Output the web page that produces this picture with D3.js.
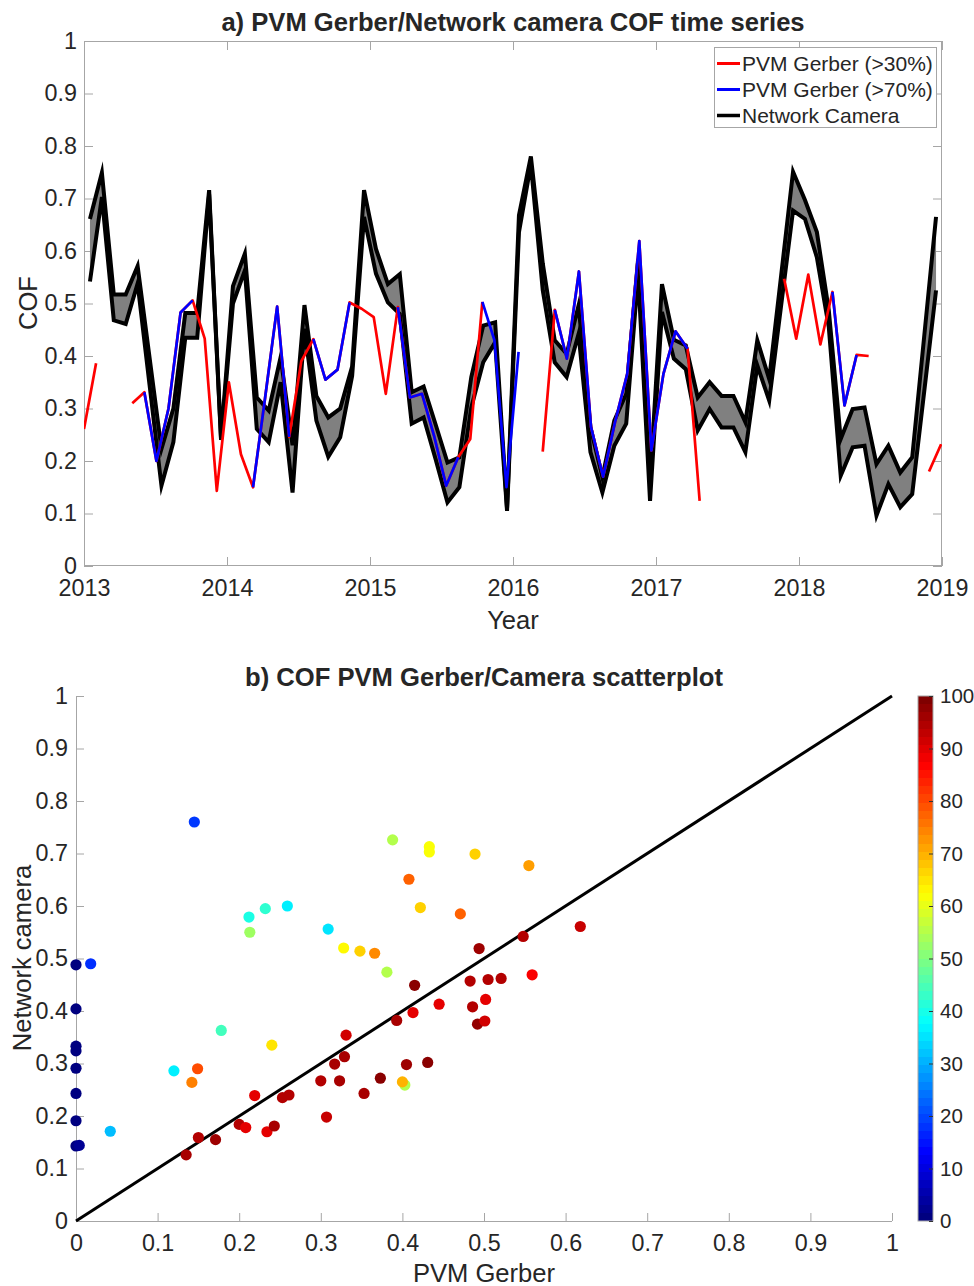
<!DOCTYPE html>
<html><head><meta charset="utf-8">
<script src="https://cdn.jsdelivr.net/npm/d3@7"></script>
<style>
body{margin:0;background:#fff}
svg{display:block}
text{font-family:"Liberation Sans",Arial,Helvetica,sans-serif;fill:#262626}
</style>
</head><body>
<svg id="c" width="974" height="1286"></svg>
<script>
// ---------------- DATA ----------------
// a) Network camera COF band (monthly, mid-month), upper and lower edges
const cameraUpper = [0.661,0.749,0.517,0.517,0.571,0.397,0.223,0.300,0.482,0.482,
  0.716,0.242,0.533,0.595,0.321,0.296,0.398,0.230,0.497,0.324,
  0.283,0.300,0.380,0.716,0.604,0.537,0.556,0.331,0.342,0.270,
  0.197,0.207,0.360,0.458,0.464,0.110,0.668,0.780,0.576,0.430,
  0.404,0.496,0.264,0.169,0.277,0.328,0.585,0.160,0.537,0.431,
  0.420,0.321,0.350,0.324,0.324,0.274,0.430,0.356,0.553,0.751,
  0.697,0.636,0.487,0.242,0.299,0.302,0.194,0.229,0.178,0.207,
  0.436,0.665];
const cameraLower = [0.542,0.703,0.468,0.461,0.538,0.345,0.153,0.236,0.435,0.435,
  0.708,0.240,0.500,0.563,0.261,0.236,0.350,0.140,0.452,0.277,
  0.208,0.245,0.362,0.665,0.557,0.502,0.480,0.271,0.283,0.204,
  0.121,0.150,0.302,0.388,0.426,0.105,0.636,0.765,0.525,0.388,
  0.360,0.442,0.217,0.140,0.229,0.271,0.555,0.124,0.484,0.395,
  0.375,0.258,0.299,0.264,0.264,0.217,0.382,0.315,0.496,0.677,
  0.661,0.588,0.455,0.172,0.226,0.229,0.096,0.156,0.112,0.137,
  0.331,0.525];
// PVM Gerber series (null = no data)
const gerber30 = [0.261,0.386,null,null,0.310,0.331,0.200,0.300,0.483,0.506,
  0.433,0.143,0.350,0.213,0.150,0.320,0.494,0.246,0.390,0.432,
  0.355,0.374,0.502,0.490,0.474,0.328,0.493,0.321,0.328,0.248,
  0.153,0.207,0.242,0.503,null,null,null,null,0.218,0.488,
  0.395,0.561,0.265,0.170,0.275,0.366,0.619,0.220,0.366,0.447,
  0.414,0.124,null,null,null,null,null,null,0.547,0.433,
  0.555,0.422,0.522,0.306,0.402,0.400,null,null,null,null,
  0.180,0.232];
const gerber70 = [null,null,null,null,null,0.331,0.200,0.300,0.483,0.506,
  null,null,null,null,0.150,0.320,0.494,0.246,null,0.432,
  0.355,0.374,0.502,null,null,null,0.493,0.321,0.328,0.248,
  0.153,0.207,null,0.503,0.430,0.150,0.408,null,null,0.488,
  0.395,0.561,0.265,0.170,0.275,0.366,0.619,0.220,0.366,0.447,
  0.414,null,null,null,null,null,null,null,null,null,
  null,null,0.522,0.306,0.402,null,null,null,null,null,
  null,null];
const startYear = 2013;
const gerberStepMonths = 1.013;   // sampling interval of the Gerber series, months
const yearTicks = [2013,2014,2015,2016,2017,2018,2019];
const cofTicks = [0,0.1,0.2,0.3,0.4,0.5,0.6,0.7,0.8,0.9,1];
const legendLabels = ["PVM Gerber (>30%)","PVM Gerber (>70%)","Network Camera"];
const seriesColors = ["#ff0000","#0000ff","#000000"];

// b) scatter: PVM Gerber COF, camera COF, colour value (%)
const scatterGerber = [0,0,0,0,0,0,0,0,0.004,0.018,0.145,0.042,0.120,0.142,0.149,0.178,0.212,0.213,0.232,0.259,
  0.240,0.135,0.150,0.171,0.200,0.208,0.219,0.234,0.243,0.253,0.261,0.300,0.388,0.433,0.433,0.489,0.555,0.408,0.422,0.471,
  0.309,0.328,0.348,0.366,0.381,0.618,0.548,0.494,0.559,0.483,0.505,0.521,0.415,0.502,0.486,0.445,0.413,0.492,0.501,0.393,
  0.331,0.329,0.317,0.405,0.431,0.323,0.373,0.403,0.400,0.353,0.307];
const scatterCamera = [0.488,0.404,0.333,0.324,0.291,0.243,0.191,0.143,0.144,0.490,0.760,0.171,0.286,0.264,0.290,0.363,0.579,0.550,0.595,0.600,
  0.335,0.126,0.159,0.155,0.184,0.178,0.239,0.170,0.181,0.235,0.240,0.267,0.726,0.713,0.703,0.699,0.677,0.651,0.597,0.585,
  0.556,0.520,0.514,0.510,0.474,0.561,0.542,0.519,0.469,0.457,0.460,0.462,0.449,0.422,0.408,0.413,0.397,0.375,0.381,0.382,
  0.354,0.313,0.299,0.298,0.302,0.267,0.272,0.259,0.265,0.243,0.198];
const scatterPct = [0,0,0,0,0,0,0,0,2,17,18,31,36,75,80,44,40,53,42,36,
  65,96,95,97,95,90,90,90,96,95,95,95,55,62,62,67,72,78,67,78,
  35,63,67,74,55,93,95,97,88,95,95,95,99,90,95,90,90,98,92,96,
  92,96,96,97,99,96,99,55,70,96,93];
const unitTicks = [0,0.1,0.2,0.3,0.4,0.5,0.6,0.7,0.8,0.9,1];
const colorbarTicks = [0,10,20,30,40,50,60,70,80,90,100];

// ---------------- DRAWING ----------------
const svg = d3.select('#c');
const FA = 23.3, FT = 25.6, FL = 21, FC = 20.5;
const AXC = '#a6a6a6';
const fmtUnit = d => (d === 0 ? '0' : d === 1 ? '1' : d3.format('.1f')(d));

function jet(t){
  const c = v => Math.max(0, Math.min(1, v));
  const r = c(1.5 - Math.abs(4*t - 3)), g = c(1.5 - Math.abs(4*t - 2)), b = c(1.5 - Math.abs(4*t - 1));
  return d3.rgb(r*255, g*255, b*255).formatHex();
}
function styleAxis(g, labels){
  g.select('.domain').remove();
  g.selectAll('.tick line').attr('stroke', AXC).attr('stroke-width', 1);
  g.selectAll('.tick text').attr('font-size', FA).attr('fill', '#262626')
    .attr('font-family', '"Liberation Sans",Arial,sans-serif');
  if (!labels) g.selectAll('.tick text').remove();
}

// ===== a) time series =====
const L = 84, R = 942, T = 41, B = 566;
const xT = d3.scaleLinear().domain([2013, 2019]).range([L, R]);
const yT = d3.scaleLinear().domain([0, 1]).range([B, T]);
const camDate = i => startYear + (i + 0.5) / 12;
const gerDate = j => startYear + j * gerberStepMonths / 12;

svg.append('defs').append('clipPath').attr('id', 'clipA')
  .append('rect').attr('x', L).attr('y', T).attr('width', R - L).attr('height', B - T);

const gA = svg.append('g');
gA.append('g').attr('transform', `translate(0,${B})`)
  .call(d3.axisBottom(xT).tickValues(yearTicks).tickFormat(d3.format('d')).tickSize(-9).tickPadding(13))
  .call(g => styleAxis(g, true));
gA.append('g').attr('transform', `translate(0,${T})`)
  .call(d3.axisTop(xT).tickValues(yearTicks).tickSize(-9)).call(g => styleAxis(g, false));
gA.append('g').attr('transform', `translate(${L},0)`)
  .call(d3.axisLeft(yT).tickValues(cofTicks).tickFormat(fmtUnit).tickSize(-9).tickPadding(7))
  .call(g => styleAxis(g, true));
gA.append('g').attr('transform', `translate(${R},0)`)
  .call(d3.axisRight(yT).tickValues(cofTicks).tickSize(-9)).call(g => styleAxis(g, false));
gA.append('rect').attr('x', L + 0.5).attr('y', T + 0.5).attr('width', R - L - 1).attr('height', B - T - 1)
  .attr('fill', 'none').attr('stroke', AXC);

const plotA = gA.append('g').attr('clip-path', 'url(#clipA)');
const idx = d3.range(cameraUpper.length);
plotA.append('path').datum(idx)
  .attr('d', d3.area().x(i => xT(camDate(i))).y0(i => yT(cameraLower[i])).y1(i => yT(cameraUpper[i])))
  .attr('fill', '#808080');
[cameraUpper, cameraLower].forEach(arr => {
  plotA.append('path').datum(idx)
    .attr('d', d3.line().x(i => xT(camDate(i))).y(i => yT(arr[i])))
    .attr('fill', 'none').attr('stroke', '#000').attr('stroke-width', 4)
    .attr('stroke-linejoin', 'miter').attr('stroke-miterlimit', 6);
});
[gerber30, gerber70].forEach((arr, k) => {
  plotA.append('path').datum(d3.range(arr.length))
    .attr('d', d3.line().defined(j => arr[j] != null).x(j => xT(gerDate(j))).y(j => yT(arr[j])))
    .attr('fill', 'none').attr('stroke', seriesColors[k]).attr('stroke-width', 2.7)
    .attr('stroke-linejoin', 'round');
});

// labels
svg.append('text').attr('x', 513).attr('y', 31).attr('text-anchor', 'middle')
  .attr('font-size', FT).attr('font-weight', 'bold').attr('fill', '#000')
  .text('a) PVM Gerber/Network camera COF time series');
svg.append('text').attr('x', 513).attr('y', 629).attr('text-anchor', 'middle')
  .attr('font-size', FT).text('Year');
svg.append('text').attr('transform', 'translate(37,303) rotate(-90)').attr('text-anchor', 'middle')
  .attr('font-size', FT).text('COF');

// legend
const lg = svg.append('g');
lg.append('rect').attr('x', 714.5).attr('y', 47.5).attr('width', 222).attr('height', 80)
  .attr('fill', '#fff').attr('stroke', AXC);
legendLabels.forEach((lab, k) => {
  const yy = 63.5 + k * 26;
  lg.append('line').attr('x1', 717).attr('x2', 740).attr('y1', yy).attr('y2', yy)
    .attr('stroke', seriesColors[k]).attr('stroke-width', k === 2 ? 3.5 : 3);
  lg.append('text').attr('x', 742).attr('y', yy + 7.5).attr('font-size', FL).attr('fill', '#000').text(lab);
});

// ===== b) scatter =====
const L2 = 76, R2 = 892, T2 = 696, B2 = 1221;
const xS = d3.scaleLinear().domain([0, 1]).range([L2, R2]);
const yS = d3.scaleLinear().domain([0, 1]).range([B2, T2]);
const gB = svg.append('g');
gB.append('g').attr('transform', `translate(0,${B2})`)
  .call(d3.axisBottom(xS).tickValues(unitTicks).tickFormat(fmtUnit).tickSize(-8).tickPadding(13))
  .call(g => styleAxis(g, true));
gB.append('g').attr('transform', `translate(${L2},0)`)
  .call(d3.axisLeft(yS).tickValues(unitTicks).tickFormat(fmtUnit).tickSize(-8).tickPadding(8))
  .call(g => styleAxis(g, true));
gB.append('line').attr('x1', L2).attr('x2', R2).attr('y1', B2 + 0.5).attr('y2', B2 + 0.5).attr('stroke', AXC);
gB.append('line').attr('x1', L2 + 0.5).attr('x2', L2 + 0.5).attr('y1', T2).attr('y2', B2).attr('stroke', AXC);

gB.append('line').attr('x1', xS(0)).attr('y1', yS(0)).attr('x2', xS(1)).attr('y2', yS(1))
  .attr('stroke', '#000').attr('stroke-width', 3);

gB.append('g').selectAll('circle').data(d3.range(scatterGerber.length)).join('circle')
  .attr('cx', i => xS(scatterGerber[i])).attr('cy', i => yS(scatterCamera[i]))
  .attr('r', 5.6).attr('fill', i => jet(scatterPct[i] / 100));

svg.append('text').attr('x', 484).attr('y', 686).attr('text-anchor', 'middle')
  .attr('font-size', FT).attr('font-weight', 'bold').attr('fill', '#000')
  .text('b) COF PVM Gerber/Camera scatterplot');
svg.append('text').attr('x', 484).attr('y', 1282).attr('text-anchor', 'middle')
  .attr('font-size', FT).text('PVM Gerber');
svg.append('text').attr('transform', 'translate(31,958) rotate(-90)').attr('text-anchor', 'middle')
  .attr('font-size', FT).text('Network camera');

// colorbar
const cbX = 918, cbW = 15;
const cS = d3.scaleLinear().domain([0, 100]).range([B2, T2]);
const grad = svg.select('defs').append('linearGradient').attr('id', 'jetg')
  .attr('x1', 0).attr('y1', 1).attr('x2', 0).attr('y2', 0);
d3.range(0, 64).forEach(k => {
  grad.append('stop').attr('offset', k / 64).attr('stop-color', jet(k / 63));
  grad.append('stop').attr('offset', (k + 1) / 64).attr('stop-color', jet(k / 63));
});
svg.append('rect').attr('x', cbX).attr('y', T2).attr('width', cbW).attr('height', B2 - T2)
  .attr('fill', 'url(#jetg)').attr('stroke', AXC).attr('stroke-width', 1);
const cbAxis = svg.append('g').attr('transform', `translate(${cbX + cbW},0)`)
  .call(d3.axisRight(cS).tickValues(colorbarTicks).tickSize(-4).tickPadding(7));
cbAxis.select('.domain').remove();
cbAxis.selectAll('.tick line').attr('stroke', '#333');
cbAxis.selectAll('.tick text').attr('font-size', FC).attr('fill', '#262626')
  .attr('font-family', '"Liberation Sans",Arial,sans-serif');
</script>
</body></html>
